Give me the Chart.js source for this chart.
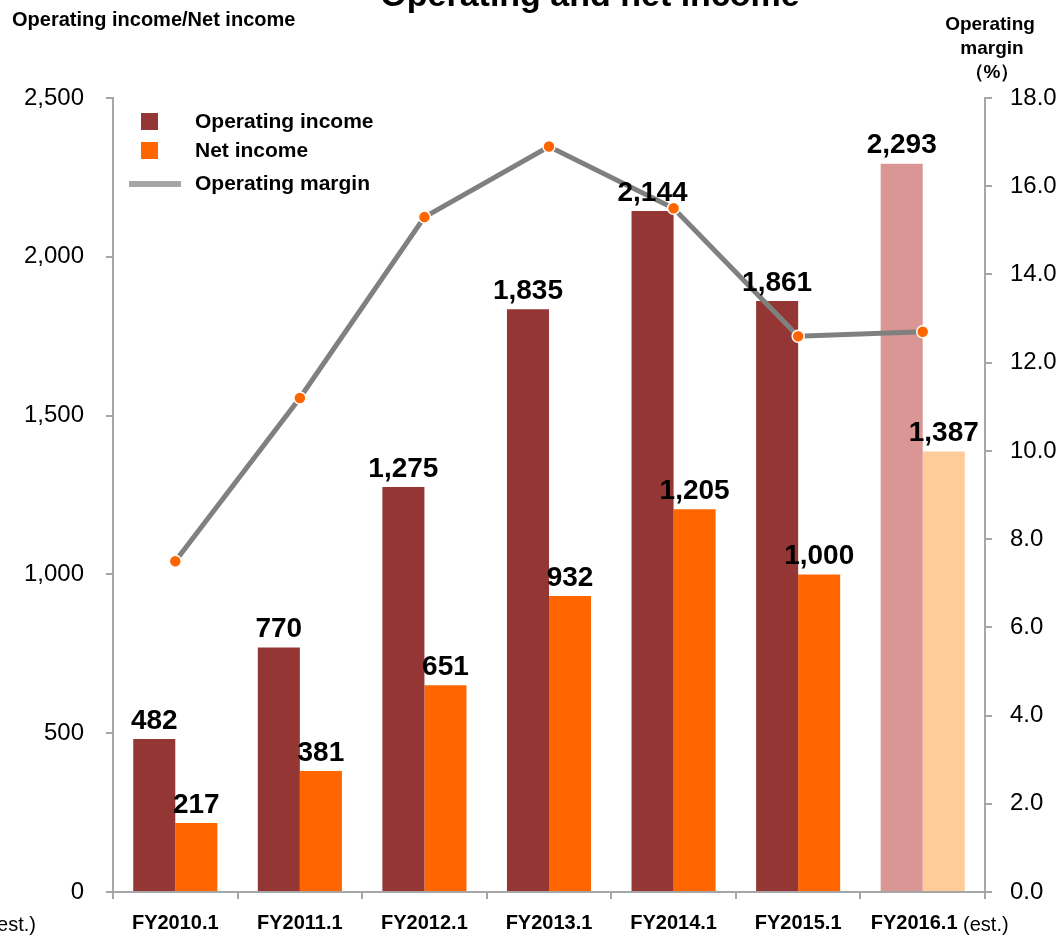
<!DOCTYPE html>
<html>
<head>
<meta charset="utf-8">
<script src="https://cdn.jsdelivr.net/npm/chart.js@4.4.1/dist/chart.umd.min.js"></script>
<style>
  html, body { margin: 0; padding: 0; background: #fff; }
  #wrap { position: relative; width: 1060px; height: 937px; }
</style>
</head>
<body>
<div id="wrap"><canvas id="incomeChart" width="1060" height="937"></canvas></div>
<script>
// Operating income / net income (bars) and operating margin (line)
const periods = ['FY2010.1', 'FY2011.1', 'FY2012.1', 'FY2013.1', 'FY2014.1', 'FY2015.1', 'FY2016.1'];
const periodNotes = ['', '', '', '', '', '', '(est.)'];
const operatingIncome = [482, 770, 1275, 1835, 2144, 1861, 2293];
const netIncome = [217, 381, 651, 932, 1205, 1000, 1387];
const operatingMargin = [7.5, 11.2, 15.3, 16.9, 15.5, 12.6, 12.7];
const incomeTicks = [0, 500, 1000, 1500, 2000, 2500];
const marginTicks = [0, 2, 4, 6, 8, 10, 12, 14, 16, 18];

const FONT = "'Liberation Sans', Arial, sans-serif";
const AXIS_GRAY = '#A6A6A6';

// last year is an estimate -> lighter colours
const opColors = operatingIncome.map((v, i) => i === periods.length - 1 ? '#D99694' : '#943634');
const netColors = netIncome.map((v, i) => i === periods.length - 1 ? '#FFCC99' : '#FF6600');

const fmt = v => v.toLocaleString('en-US');

// headings, legend, value labels and category labels
const decorations = {
    id: 'decorations',
    afterDatasetsDraw(chart) {
        const ctx = chart.ctx;
        ctx.save();
        ctx.fillStyle = '#000';

        // value labels above the bars
        ctx.font = 'bold 28px ' + FONT;
        ctx.textAlign = 'center';
        ctx.textBaseline = 'bottom';
        [0, 1].forEach(di => {
            const meta = chart.getDatasetMeta(di);
            const values = chart.data.datasets[di].data;
            meta.data.forEach((bar, i) => {
                ctx.fillText(fmt(values[i]), bar.x, bar.y - 4);
            });
        });
        ctx.restore();
    },
    afterDraw(chart) {
        const ctx = chart.ctx;
        ctx.save();
        ctx.fillStyle = '#000';

        // main title, sits partly above the top edge
        ctx.font = 'bold 34px ' + FONT;
        ctx.textAlign = 'center';
        ctx.textBaseline = 'alphabetic';
        ctx.fillText('Operating and net income', 590, 6);

        // left axis heading
        ctx.font = 'bold 20px ' + FONT;
        ctx.textAlign = 'left';
        ctx.textBaseline = 'middle';
        ctx.fillText('Operating income/Net income', 12, 20);

        // right axis heading
        ctx.textAlign = 'center';
        ctx.font = 'bold 19px ' + FONT;
        ctx.fillText('Operating', 990, 25);
        ctx.fillText('margin', 992, 49);
        ctx.fillText('\uFF08%\uFF09', 992, 73);

        // clipped label from neighbouring panel
        ctx.font = '20px ' + FONT;
        ctx.textAlign = 'right';
        ctx.fillText('(est.)', 36, 925);

        // category labels (bold period + normal note)
        const xs = chart.scales.x;
        periods.forEach((p, i) => {
            const cx = xs.getPixelForValue(i);
            ctx.font = 'bold 20px ' + FONT;
            const w1 = ctx.measureText(p).width;
            let w2 = 0;
            const note = periodNotes[i];
            if (note) {
                ctx.font = '20px ' + FONT;
                w2 = ctx.measureText(' ' + note).width;
            }
            const start = cx - (w1 + w2) / 2 + (note ? 17 : 0);
            ctx.textAlign = 'left';
            ctx.font = 'bold 20px ' + FONT;
            ctx.fillText(p, start, 923);
            if (note) {
                ctx.font = '20px ' + FONT;
                ctx.fillText(' ' + note, start + w1, 925);
            }
        });

        // legend
        const ds = chart.data.datasets;
        ctx.textAlign = 'left';
        ctx.font = 'bold 21px ' + FONT;
        ctx.fillStyle = '#943634';
        ctx.fillRect(141, 113, 17, 17);
        ctx.fillStyle = '#FF6600';
        ctx.fillRect(141, 142, 17, 17);
        ctx.fillStyle = AXIS_GRAY;
        ctx.fillRect(129, 181, 52, 6);
        ctx.fillStyle = '#000';
        ctx.fillText(ds[0].label, 195, 122);
        ctx.fillText(ds[1].label, 195, 151);
        ctx.fillText(ds[2].label, 195, 184);

        ctx.restore();
    }
};

const ctx = document.getElementById('incomeChart').getContext('2d');

new Chart(ctx, {
    data: {
        labels: periods,
        datasets: [
            {
                type: 'bar',
                label: 'Operating income',
                data: operatingIncome,
                backgroundColor: opColors,
                yAxisID: 'y',
                order: 1,
                categoryPercentage: 0.675,
                barPercentage: 1.0
            },
            {
                type: 'bar',
                label: 'Net income',
                data: netIncome,
                backgroundColor: netColors,
                yAxisID: 'y',
                order: 1,
                categoryPercentage: 0.675,
                barPercentage: 1.0
            },
            {
                type: 'line',
                label: 'Operating margin',
                data: operatingMargin,
                borderColor: '#808080',
                borderWidth: 5,
                pointRadius: 6,
                pointBackgroundColor: '#FF6600',
                pointBorderColor: '#fff',
                pointBorderWidth: 1.5,
                tension: 0,
                yAxisID: 'y1',
                order: 0
            }
        ]
    },
    options: {
        responsive: false,
        animation: false,
        layout: { padding: { top: 98, left: 0, right: 0, bottom: 0 } },
        plugins: {
            legend: { display: false },
            tooltip: { enabled: false }
        },
        scales: {
            x: {
                offset: true,
                grid: {
                    display: true,
                    offset: true,
                    drawOnChartArea: false,
                    drawTicks: true,
                    tickLength: 7,
                    tickColor: AXIS_GRAY,
                    lineWidth: 2
                },
                border: { display: true, color: AXIS_GRAY, width: 2 },
                ticks: { display: false },
                afterFit(scale) { scale.height = 45; }
            },
            y: {
                position: 'left',
                min: 0,
                max: 2500,
                afterBuildTicks(scale) {
                    scale.ticks = incomeTicks.map(v => ({ value: v }));
                },
                ticks: {
                    padding: 22,
                    color: '#000',
                    font: { family: FONT, size: 24 },
                    callback: v => fmt(v)
                },
                grid: {
                    drawOnChartArea: false,
                    drawTicks: true,
                    tickLength: 7,
                    tickColor: AXIS_GRAY,
                    lineWidth: 2
                },
                border: { display: true, color: AXIS_GRAY, width: 2 },
                afterFit(scale) { scale.width = 113; }
            },
            y1: {
                position: 'right',
                min: 0,
                max: 18,
                afterBuildTicks(scale) {
                    scale.ticks = marginTicks.map(v => ({ value: v }));
                },
                ticks: {
                    padding: 18,
                    color: '#000',
                    font: { family: FONT, size: 24 },
                    callback: v => v.toFixed(1)
                },
                grid: {
                    drawOnChartArea: false,
                    drawTicks: true,
                    tickLength: 7,
                    tickColor: AXIS_GRAY,
                    lineWidth: 2
                },
                border: { display: true, color: AXIS_GRAY, width: 2 },
                afterFit(scale) { scale.width = 75; }
            }
        }
    },
    plugins: [decorations]
});
</script>
</body>
</html>
